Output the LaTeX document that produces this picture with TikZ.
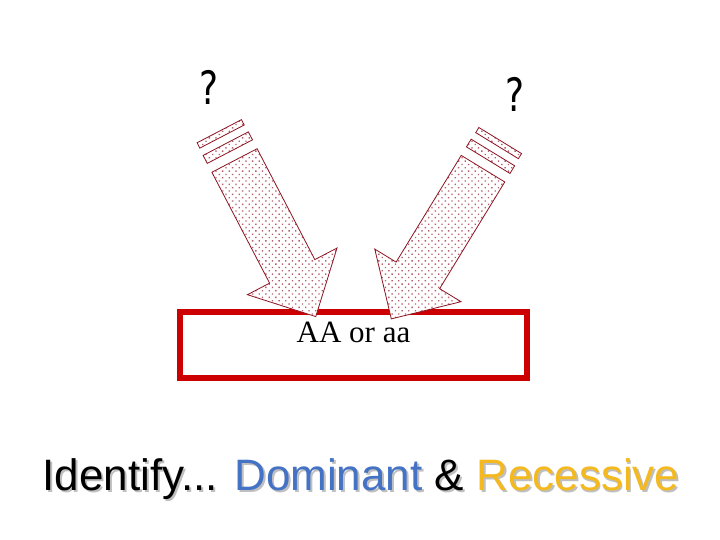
\documentclass[tikz,border=0pt]{standalone}
\usepackage{fontspec}
\setmainfont{Liberation Serif}
\setsansfont{Liberation Sans}
\newfontfamily\qfont{DejaVu Sans}
\usetikzlibrary{patterns.meta}

\definecolor{boxred}{RGB}{204,0,0}
\definecolor{arrowline}{RGB}{140,20,35}
\definecolor{dotpink}{RGB}{180,95,110}
\definecolor{domblue}{RGB}{68,114,196}
\definecolor{recgold}{RGB}{244,185,30}

% block arrow: shaft starts at (0,0) and points along +x
\newcommand{\fatarrow}[2]{%
  \begin{scope}[shift={#1},rotate=#2]
    \draw[blockarrow] (-33,-25) rectangle (-27,25);
    \draw[blockarrow] (-19,-25.5) rectangle (-10,25.5);
    \draw[blockarrow] (0,-25.5) -- (125,-25.5) -- (125,-50.5) -- (176,0)
      -- (125,50.5) -- (125,25.5) -- (0,25.5) -- cycle;
  \end{scope}}

% caption text, with a grey copy behind it as shadow
\newcommand{\shadowed}[2]{\rlap{\kern2pt\raisebox{-2pt}{\textcolor{black!25}{#1}}}#2}

\tikzset{
  blockarrow/.style={draw=arrowline, line width=0.8pt, preaction={fill=white},
    pattern={Dots[distance=4.7pt, angle=45, radius=0.95pt]}, pattern color=dotpink},
  qmark/.style={font=\qfont\fontsize{46}{50}\selectfont, xscale=0.78, inner sep=0pt, anchor=base},
}

\begin{document}
\begin{tikzpicture}[x=1pt,y=1pt]
    \useasboundingbox[fill=white] (0,0) rectangle (720,540);
    % genotype box
    \draw[boxred, line width=6pt] (179.5,162) rectangle (527,227.7);
    \node[font=\fontsize{31}{34}\selectfont, anchor=base, inner sep=0pt] (geno) at (353.5,197.5) {AA or aa};
    % parents
    \node[qmark] (qleft) at (209,435) {?};
    \node[qmark] (qright) at (515.5,428) {?};
    \fatarrow{(234.5,379.5)}{-62.5}
    \fatarrow{(483,371.3)}{-121.4}
    % caption
    \node[font=\sffamily\fontsize{44}{50}\selectfont, anchor=base, inner sep=0pt] (title) at (361,49)
      {\shadowed{Identify... Dominant \& Recessive}{Identify... \textcolor{domblue}{Dominant} \& \textcolor{recgold}{Recessive}}};
\end{tikzpicture}
\end{document}
